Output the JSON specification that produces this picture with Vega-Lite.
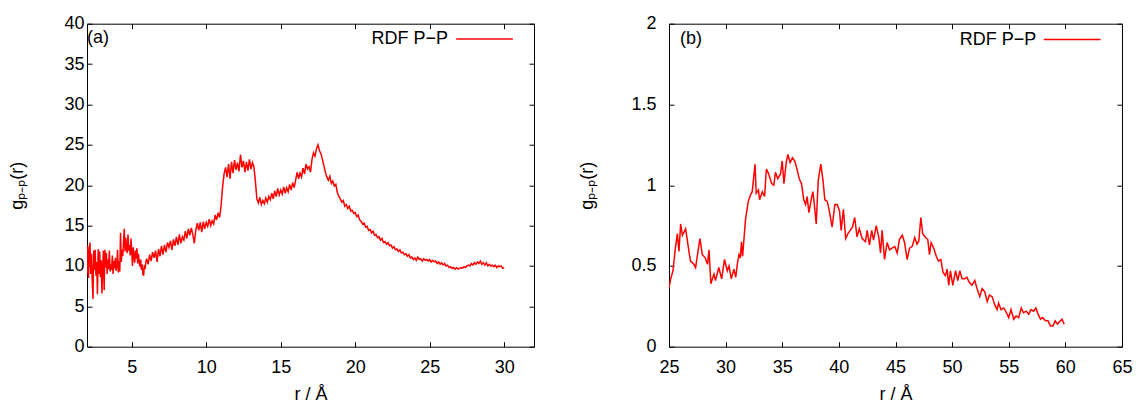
{
  "$schema": "https://vega.github.io/schema/vega-lite/v6.json",
  "padding": {"left": 8, "top": 8.7, "right": 5, "bottom": 3},
  "autosize": {"type": "pad"},
  "datasets": {
    "a": [
      {"r":2.0,"g":9.0},{"r":2.05,"g":12.5},{"r":2.1,"g":8.5},{"r":2.15,"g":11.8},{"r":2.2,"g":12.9},{"r":2.25,"g":9.0},{"r":2.3,"g":11.5},{"r":2.35,"g":8.2},{"r":2.4,"g":5.9},{"r":2.45,"g":11.9},{"r":2.5,"g":9.5},{"r":2.55,"g":12.0},{"r":2.6,"g":8.8},{"r":2.65,"g":10.5},{"r":2.7,"g":6.5},{"r":2.75,"g":12.1},{"r":2.8,"g":9.0},{"r":2.85,"g":11.8},{"r":2.9,"g":8.6},{"r":2.95,"g":10.7},{"r":3.0,"g":6.6},{"r":3.05,"g":9.8},{"r":3.1,"g":11.9},{"r":3.15,"g":7.0},{"r":3.2,"g":12.0},{"r":3.25,"g":9.8},{"r":3.3,"g":11.6},{"r":3.35,"g":9.0},{"r":3.4,"g":10.8},{"r":3.45,"g":9.6},{"r":3.5,"g":11.9},{"r":3.55,"g":9.3},{"r":3.6,"g":10.2},{"r":3.65,"g":9.5},{"r":3.7,"g":11.3},{"r":3.75,"g":9.0},{"r":3.8,"g":10.6},{"r":3.85,"g":9.7},{"r":3.9,"g":11.0},{"r":3.95,"g":9.4},{"r":4.0,"g":10.1},{"r":4.05,"g":12.0},{"r":4.1,"g":9.2},{"r":4.15,"g":10.6},{"r":4.2,"g":9.3},{"r":4.25,"g":14.1},{"r":4.3,"g":10.5},{"r":4.35,"g":12.0},{"r":4.4,"g":11.2},{"r":4.45,"g":13.0},{"r":4.5,"g":14.6},{"r":4.55,"g":11.8},{"r":4.6,"g":13.5},{"r":4.65,"g":12.2},{"r":4.7,"g":11.6},{"r":4.75,"g":13.9},{"r":4.8,"g":11.9},{"r":4.85,"g":12.6},{"r":4.9,"g":11.3},{"r":4.95,"g":13.4},{"r":5.0,"g":11.8},{"r":5.05,"g":10.0},{"r":5.1,"g":12.3},{"r":5.15,"g":11.1},{"r":5.2,"g":10.4},{"r":5.25,"g":11.9},{"r":5.3,"g":10.9},{"r":5.35,"g":12.2},{"r":5.4,"g":10.3},{"r":5.45,"g":11.5},{"r":5.5,"g":10.6},{"r":5.55,"g":9.9},{"r":5.6,"g":10.8},{"r":5.65,"g":9.5},{"r":5.7,"g":10.2},{"r":5.75,"g":9.0},{"r":5.8,"g":8.8},{"r":5.85,"g":10.1},{"r":5.9,"g":9.6},{"r":5.95,"g":10.5},{"r":6.0,"g":10.9},{"r":6.1,"g":10.2},{"r":6.2,"g":11.4},{"r":6.3,"g":10.6},{"r":6.4,"g":11.7},{"r":6.5,"g":11.0},{"r":6.6,"g":11.9},{"r":6.7,"g":10.5},{"r":6.8,"g":12.1},{"r":6.9,"g":11.2},{"r":7.0,"g":12.5},{"r":7.1,"g":11.4},{"r":7.2,"g":12.6},{"r":7.3,"g":11.7},{"r":7.4,"g":12.9},{"r":7.5,"g":12.3},{"r":7.6,"g":13.1},{"r":7.7,"g":12.0},{"r":7.8,"g":13.3},{"r":7.9,"g":12.5},{"r":8.0,"g":13.6},{"r":8.1,"g":12.6},{"r":8.2,"g":13.9},{"r":8.3,"g":12.8},{"r":8.4,"g":13.6},{"r":8.5,"g":13.2},{"r":8.6,"g":14.3},{"r":8.7,"g":13.4},{"r":8.8,"g":14.6},{"r":8.9,"g":13.8},{"r":9.0,"g":14.7},{"r":9.1,"g":13.9},{"r":9.2,"g":12.8},{"r":9.3,"g":14.4},{"r":9.4,"g":15.3},{"r":9.5,"g":14.4},{"r":9.6,"g":15.4},{"r":9.7,"g":14.2},{"r":9.8,"g":15.5},{"r":9.9,"g":14.6},{"r":10.0,"g":15.4},{"r":10.1,"g":14.9},{"r":10.2,"g":15.8},{"r":10.3,"g":15.0},{"r":10.4,"g":15.6},{"r":10.5,"g":15.2},{"r":10.6,"g":16.3},{"r":10.7,"g":15.7},{"r":10.8,"g":16.6},{"r":10.9,"g":16.0},{"r":11.0,"g":17.5},{"r":11.1,"g":19.8},{"r":11.2,"g":21.4},{"r":11.3,"g":22.2},{"r":11.4,"g":21.0},{"r":11.5,"g":22.6},{"r":11.6,"g":20.8},{"r":11.7,"g":22.9},{"r":11.8,"g":21.5},{"r":11.9,"g":23.1},{"r":12.0,"g":21.9},{"r":12.1,"g":22.8},{"r":12.2,"g":21.7},{"r":12.3,"g":23.8},{"r":12.4,"g":22.2},{"r":12.5,"g":23.0},{"r":12.6,"g":21.6},{"r":12.7,"g":22.9},{"r":12.8,"g":21.8},{"r":12.9,"g":23.2},{"r":13.0,"g":22.0},{"r":13.1,"g":22.8},{"r":13.2,"g":22.3},{"r":13.3,"g":20.5},{"r":13.4,"g":18.3},{"r":13.5,"g":17.8},{"r":13.6,"g":18.5},{"r":13.7,"g":17.6},{"r":13.8,"g":18.1},{"r":13.9,"g":17.7},{"r":14.0,"g":18.4},{"r":14.1,"g":17.9},{"r":14.2,"g":18.6},{"r":14.3,"g":18.2},{"r":14.4,"g":19.0},{"r":14.5,"g":18.3},{"r":14.6,"g":19.3},{"r":14.7,"g":18.6},{"r":14.8,"g":19.6},{"r":14.9,"g":18.8},{"r":15.0,"g":19.4},{"r":15.1,"g":18.9},{"r":15.2,"g":19.8},{"r":15.3,"g":19.0},{"r":15.4,"g":19.7},{"r":15.5,"g":19.2},{"r":15.6,"g":20.1},{"r":15.7,"g":19.4},{"r":15.8,"g":20.3},{"r":15.9,"g":19.7},{"r":16.0,"g":20.6},{"r":16.1,"g":21.6},{"r":16.2,"g":20.8},{"r":16.3,"g":21.5},{"r":16.4,"g":21.0},{"r":16.5,"g":22.1},{"r":16.6,"g":21.4},{"r":16.7,"g":22.6},{"r":16.8,"g":22.0},{"r":16.9,"g":22.3},{"r":17.0,"g":21.6},{"r":17.1,"g":23.2},{"r":17.2,"g":24.0},{"r":17.3,"g":23.6},{"r":17.4,"g":24.5},{"r":17.5,"g":25.0},{"r":17.6,"g":24.3},{"r":17.7,"g":23.9},{"r":17.8,"g":23.2},{"r":17.9,"g":22.4},{"r":18.0,"g":21.6},{"r":18.1,"g":21.0},{"r":18.2,"g":20.6},{"r":18.3,"g":21.1},{"r":18.4,"g":20.2},{"r":18.5,"g":20.5},{"r":18.6,"g":19.9},{"r":18.7,"g":20.1},{"r":18.8,"g":19.1},{"r":18.9,"g":18.6},{"r":19.0,"g":18.3},{"r":19.1,"g":17.9},{"r":19.2,"g":18.1},{"r":19.3,"g":17.4},{"r":19.4,"g":17.6},{"r":19.5,"g":17.1},{"r":19.6,"g":17.4},{"r":19.7,"g":16.8},{"r":19.8,"g":16.9},{"r":19.9,"g":16.5},{"r":20.0,"g":16.6},{"r":20.1,"g":16.1},{"r":20.2,"g":16.3},{"r":20.3,"g":15.7},{"r":20.4,"g":15.5},{"r":20.5,"g":15.2},{"r":20.6,"g":15.3},{"r":20.7,"g":14.8},{"r":20.8,"g":14.9},{"r":20.9,"g":14.4},{"r":21.0,"g":14.5},{"r":21.1,"g":14.1},{"r":21.2,"g":14.3},{"r":21.3,"g":13.8},{"r":21.4,"g":13.9},{"r":21.5,"g":13.5},{"r":21.6,"g":13.6},{"r":21.7,"g":13.2},{"r":21.8,"g":13.4},{"r":21.9,"g":12.9},{"r":22.0,"g":13.0},{"r":22.1,"g":12.7},{"r":22.2,"g":12.9},{"r":22.3,"g":12.5},{"r":22.4,"g":12.6},{"r":22.5,"g":12.2},{"r":22.6,"g":12.4},{"r":22.7,"g":12.0},{"r":22.8,"g":12.1},{"r":22.9,"g":11.8},{"r":23.0,"g":12.0},{"r":23.1,"g":11.6},{"r":23.2,"g":11.7},{"r":23.3,"g":11.4},{"r":23.4,"g":11.5},{"r":23.5,"g":11.2},{"r":23.6,"g":11.4},{"r":23.7,"g":11.0},{"r":23.8,"g":11.1},{"r":23.9,"g":10.8},{"r":24.0,"g":11.0},{"r":24.1,"g":10.7},{"r":24.2,"g":11.1},{"r":24.3,"g":10.8},{"r":24.4,"g":10.9},{"r":24.5,"g":10.6},{"r":24.6,"g":10.9},{"r":24.7,"g":10.7},{"r":24.8,"g":10.8},{"r":24.9,"g":10.6},{"r":25.0,"g":10.8},{"r":25.1,"g":10.5},{"r":25.2,"g":10.7},{"r":25.3,"g":10.5},{"r":25.4,"g":10.6},{"r":25.5,"g":10.3},{"r":25.6,"g":10.5},{"r":25.7,"g":10.2},{"r":25.8,"g":10.4},{"r":25.9,"g":10.1},{"r":26.0,"g":10.3},{"r":26.1,"g":10.0},{"r":26.2,"g":10.1},{"r":26.3,"g":9.8},{"r":26.4,"g":9.9},{"r":26.5,"g":9.7},{"r":26.6,"g":9.8},{"r":26.7,"g":9.6},{"r":26.8,"g":9.8},{"r":26.9,"g":9.6},{"r":27.0,"g":9.7},{"r":27.1,"g":9.8},{"r":27.2,"g":9.7},{"r":27.3,"g":9.9},{"r":27.4,"g":9.8},{"r":27.5,"g":10.0},{"r":27.6,"g":10.1},{"r":27.7,"g":10.0},{"r":27.8,"g":10.3},{"r":27.9,"g":10.1},{"r":28.0,"g":10.4},{"r":28.1,"g":10.2},{"r":28.2,"g":10.5},{"r":28.3,"g":10.3},{"r":28.4,"g":10.6},{"r":28.5,"g":10.2},{"r":28.6,"g":10.4},{"r":28.7,"g":10.1},{"r":28.8,"g":10.4},{"r":28.9,"g":10.0},{"r":29.0,"g":10.2},{"r":29.1,"g":10.0},{"r":29.2,"g":10.1},{"r":29.3,"g":9.9},{"r":29.4,"g":10.1},{"r":29.5,"g":9.8},{"r":29.6,"g":10.0},{"r":29.7,"g":9.9},{"r":29.8,"g":10.0},{"r":29.9,"g":9.7},{"r":30.0,"g":9.8}
    ],
    "b": [
      {"r":25.0,"g":0.366},{"r":25.15,"g":0.42},{"r":25.35,"g":0.47},{"r":25.53,"g":0.59},{"r":25.74,"g":0.70},{"r":25.88,"g":0.59},{"r":26.03,"g":0.76},{"r":26.18,"g":0.69},{"r":26.47,"g":0.73},{"r":26.76,"g":0.59},{"r":26.9,"g":0.53},{"r":27.2,"g":0.51},{"r":27.35,"g":0.49},{"r":27.73,"g":0.67},{"r":27.94,"g":0.57},{"r":28.2,"g":0.55},{"r":28.4,"g":0.51},{"r":28.53,"g":0.60},{"r":28.7,"g":0.39},{"r":28.97,"g":0.45},{"r":29.1,"g":0.41},{"r":29.4,"g":0.49},{"r":29.65,"g":0.42},{"r":29.9,"g":0.54},{"r":30.15,"g":0.47},{"r":30.3,"g":0.50},{"r":30.5,"g":0.42},{"r":30.73,"g":0.48},{"r":30.9,"g":0.43},{"r":31.03,"g":0.51},{"r":31.18,"g":0.57},{"r":31.3,"g":0.55},{"r":31.4,"g":0.65},{"r":31.5,"g":0.56},{"r":31.76,"g":0.79},{"r":32.0,"g":0.90},{"r":32.2,"g":0.94},{"r":32.35,"g":0.96},{"r":32.6,"g":1.13},{"r":32.7,"g":0.95},{"r":32.9,"g":0.97},{"r":33.0,"g":0.91},{"r":33.24,"g":0.96},{"r":33.44,"g":0.93},{"r":33.6,"g":1.10},{"r":33.8,"g":1.07},{"r":34.06,"g":1.01},{"r":34.26,"g":1.00},{"r":34.4,"g":1.08},{"r":34.6,"g":1.04},{"r":34.85,"g":1.07},{"r":35.0,"g":1.15},{"r":35.15,"g":1.01},{"r":35.35,"g":1.14},{"r":35.5,"g":1.19},{"r":35.7,"g":1.14},{"r":35.9,"g":1.17},{"r":36.1,"g":1.15},{"r":36.3,"g":1.10},{"r":36.5,"g":1.04},{"r":36.7,"g":1.01},{"r":36.9,"g":0.91},{"r":37.06,"g":0.88},{"r":37.2,"g":0.93},{"r":37.35,"g":0.83},{"r":37.56,"g":0.91},{"r":37.7,"g":0.96},{"r":37.85,"g":0.87},{"r":38.0,"g":0.76},{"r":38.18,"g":1.03},{"r":38.4,"g":1.13},{"r":38.6,"g":1.03},{"r":38.76,"g":0.91},{"r":38.97,"g":0.90},{"r":39.1,"g":0.86},{"r":39.26,"g":0.80},{"r":39.4,"g":0.74},{"r":39.65,"g":0.88},{"r":39.85,"g":0.88},{"r":40.06,"g":0.84},{"r":40.2,"g":0.72},{"r":40.4,"g":0.85},{"r":40.6,"g":0.67},{"r":40.8,"g":0.70},{"r":41.0,"g":0.72},{"r":41.2,"g":0.74},{"r":41.4,"g":0.80},{"r":41.6,"g":0.68},{"r":41.8,"g":0.73},{"r":42.06,"g":0.67},{"r":42.35,"g":0.65},{"r":42.5,"g":0.72},{"r":42.7,"g":0.63},{"r":42.9,"g":0.72},{"r":43.06,"g":0.66},{"r":43.3,"g":0.75},{"r":43.53,"g":0.676},{"r":43.68,"g":0.58},{"r":43.82,"g":0.72},{"r":44.03,"g":0.54},{"r":44.26,"g":0.645},{"r":44.47,"g":0.60},{"r":44.7,"g":0.61},{"r":44.94,"g":0.62},{"r":45.15,"g":0.58},{"r":45.35,"g":0.665},{"r":45.6,"g":0.69},{"r":45.8,"g":0.645},{"r":46.03,"g":0.54},{"r":46.24,"g":0.61},{"r":46.47,"g":0.62},{"r":46.7,"g":0.676},{"r":46.9,"g":0.635},{"r":47.06,"g":0.655},{"r":47.24,"g":0.80},{"r":47.4,"g":0.70},{"r":47.65,"g":0.676},{"r":47.85,"g":0.665},{"r":48.0,"g":0.57},{"r":48.15,"g":0.645},{"r":48.38,"g":0.61},{"r":48.6,"g":0.56},{"r":48.8,"g":0.53},{"r":49.0,"g":0.54},{"r":49.2,"g":0.46},{"r":49.4,"g":0.44},{"r":49.56,"g":0.48},{"r":49.7,"g":0.38},{"r":49.85,"g":0.47},{"r":50.06,"g":0.38},{"r":50.3,"g":0.47},{"r":50.5,"g":0.41},{"r":50.68,"g":0.47},{"r":50.88,"g":0.42},{"r":51.1,"g":0.42},{"r":51.3,"g":0.43},{"r":51.5,"g":0.40},{"r":51.76,"g":0.38},{"r":52.0,"g":0.41},{"r":52.2,"g":0.36},{"r":52.44,"g":0.31},{"r":52.65,"g":0.36},{"r":52.88,"g":0.34},{"r":53.1,"g":0.28},{"r":53.3,"g":0.32},{"r":53.53,"g":0.31},{"r":53.76,"g":0.26},{"r":53.97,"g":0.23},{"r":54.1,"g":0.27},{"r":54.32,"g":0.23},{"r":54.56,"g":0.24},{"r":54.8,"g":0.21},{"r":55.0,"g":0.18},{"r":55.2,"g":0.23},{"r":55.44,"g":0.17},{"r":55.65,"g":0.19},{"r":55.88,"g":0.18},{"r":56.1,"g":0.24},{"r":56.3,"g":0.21},{"r":56.56,"g":0.22},{"r":56.76,"g":0.20},{"r":56.97,"g":0.23},{"r":57.2,"g":0.22},{"r":57.4,"g":0.24},{"r":57.6,"g":0.20},{"r":57.8,"g":0.17},{"r":58.0,"g":0.18},{"r":58.24,"g":0.16},{"r":58.47,"g":0.16},{"r":58.68,"g":0.128},{"r":58.9,"g":0.128},{"r":59.1,"g":0.16},{"r":59.3,"g":0.14},{"r":59.56,"g":0.16},{"r":59.7,"g":0.17},{"r":59.9,"g":0.14}
    ]
  },
  "hconcat": [
    {
      "width": 447,
      "height": 323,
      "title": {"text": "(a)", "anchor": "start", "frame": "group", "dy": 42, "dx": 0, "fontSize": 18, "fontWeight": "normal", "font": "Liberation Sans", "color": "black"},
      "data": {"name": "a"},
      "layer": [
        {
          "mark": {"type": "line", "strokeWidth": 1.5, "clip": true},
          "encoding": {
            "x": {"field": "r", "type": "quantitative", "scale": {"domain": [2, 32], "nice": false, "zero": false},
                  "axis": {"title": "r / Å", "values": [5, 10, 15, 20, 25, 30], "labelPadding": 17, "titlePadding": 9}},
            "y": {"field": "g", "type": "quantitative", "scale": {"domain": [0, 40], "nice": false},
                  "axis": {"title": "gₚ₋ₚ(r)", "values": [0, 5, 10, 15, 20, 25, 30, 35, 40], "labelPadding": 8, "titlePadding": 37}},
            "color": {"datum": "RDF P−P", "type": "nominal", "scale": {"range": ["#ff0000"]},
                      "legend": {"title": null, "orient": "none", "legendX": 368, "legendY": -14.3, "symbolType": "stroke", "symbolSize": 3215, "symbolStrokeWidth": 1.5, "labelFontSize": 18, "labelAlign": "right", "labelOffset": -66, "padding": 0}}
          }
        },
        {
          "mark": {"type": "line", "opacity": 0},
          "encoding": {
            "x": {"field": "r", "type": "quantitative", "scale": {"domain": [2, 32], "nice": false, "zero": false},
                  "axis": {"orient": "top", "title": null, "labels": false, "values": [5, 10, 15, 20, 25, 30]}},
            "y": {"field": "g", "type": "quantitative", "scale": {"domain": [0, 40], "nice": false},
                  "axis": {"orient": "right", "title": null, "labels": false, "values": [0, 5, 10, 15, 20, 25, 30, 35, 40]}}
          }
        }
      ],
      "resolve": {"axis": {"x": "independent", "y": "independent"}}
    },
    {
      "width": 453,
      "height": 323,
      "title": {"text": "(b)", "anchor": "start", "frame": "group", "dy": 42, "dx": 11, "fontSize": 18, "fontWeight": "normal", "font": "Liberation Sans", "color": "black"},
      "data": {"name": "b"},
      "layer": [
        {
          "mark": {"type": "line", "strokeWidth": 1.5, "clip": true},
          "encoding": {
            "x": {"field": "r", "type": "quantitative", "scale": {"domain": [25, 65], "nice": false, "zero": false},
                  "axis": {"title": "r / Å", "values": [25, 30, 35, 40, 45, 50, 55, 60, 65], "labelPadding": 17, "titlePadding": 9}},
            "y": {"field": "g", "type": "quantitative", "scale": {"domain": [0, 2], "nice": false},
                  "axis": {"title": "gₚ₋ₚ(r)", "values": [0, 0.5, 1, 1.5, 2], "format": "~g", "labelPadding": 18, "titlePadding": 34}},
            "color": {"datum": "RDF P−P", "type": "nominal", "scale": {"range": ["#ff0000"]},
                      "legend": {"title": null, "orient": "none", "legendX": 373.7, "legendY": -13.6, "symbolType": "stroke", "symbolSize": 3215, "symbolStrokeWidth": 1.5, "labelFontSize": 18, "labelAlign": "right", "labelOffset": -65.4, "padding": 0}}
          }
        },
        {
          "mark": {"type": "line", "opacity": 0},
          "encoding": {
            "x": {"field": "r", "type": "quantitative", "scale": {"domain": [25, 65], "nice": false, "zero": false},
                  "axis": {"orient": "top", "title": null, "labels": false, "values": [25, 30, 35, 40, 45, 50, 55, 60, 65]}},
            "y": {"field": "g", "type": "quantitative", "scale": {"domain": [0, 2], "nice": false},
                  "axis": {"orient": "right", "title": null, "labels": false, "values": [0, 0.5, 1, 1.5, 2]}}
          }
        }
      ],
      "resolve": {"axis": {"x": "independent", "y": "independent"}}
    }
  ],
  "spacing": 135,
  "bounds": "flush",
  "resolve": {"scale": {"color": "independent"}},
  "config": {
    "font": "Liberation Sans",
    "view": {"stroke": "black", "strokeWidth": 1},
    "axis": {"labelFont": "Liberation Sans", "titleFont": "Liberation Sans", "labelFontSize": 18, "titleFontSize": 18, "titleFontWeight": "normal", "labelColor": "black", "titleColor": "black", "tickColor": "black", "domain": false, "grid": false, "tickSize": -5, "tickWidth": 1, "labelFlush": false, "labelOverlap": false},
    "legend": {"labelFont": "Liberation Sans", "labelColor": "black"}
  }
}
